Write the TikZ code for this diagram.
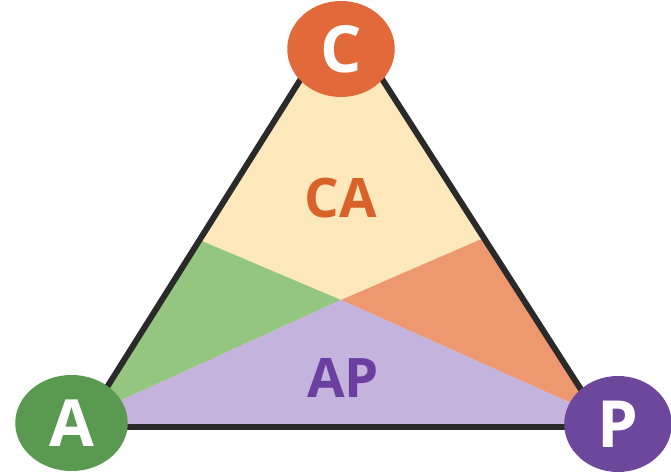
\documentclass[tikz,border=0pt]{standalone}
\usepackage{fontspec}
\setsansfont{Open Sans}
\usepackage{xcolor}
\definecolor{trLine}{HTML}{2A2A2A}
\definecolor{trYellow}{HTML}{FDE8BC}
\definecolor{trGreen}{HTML}{94C67F}
\definecolor{trOrange}{HTML}{EE9870}
\definecolor{trPurple}{HTML}{C4B3DD}
\definecolor{dotC}{HTML}{E2693A}
\definecolor{dotA}{HTML}{5A9A50}
\definecolor{dotP}{HTML}{6C479B}
\definecolor{txtCA}{HTML}{D9622B}
\definecolor{txtAP}{HTML}{6A3FA0}
\usetikzlibrary{shapes.geometric,calc}

\begin{document}
\begin{tikzpicture}[
  node_vtx/.style={ellipse, minimum width=2.15cm, minimum height=1.92cm, inner sep=0pt, font=\sffamily\bfseries\fontsize{37}{37}\selectfont, text=white},
  node_lbl/.style={font=\sffamily\bfseries\fontsize{31}{31}\selectfont}
]
  \useasboundingbox (0,0) rectangle (13.42,9.44);

  %% triangle corners and split points
  \coordinate (top) at (6.82,9.14);
  \coordinate (bl)  at (1.64,0.90);
  \coordinate (br)  at (12.10,0.90);
  \coordinate (mid) at (6.82,3.44);
  \coordinate (ls)  at (3.99,4.64);
  \coordinate (rs)  at (9.68,4.68);

  %% circle centres
  \coordinate (cc) at (6.82,8.46);
  \coordinate (ac) at (1.43,0.98);
  \coordinate (pc) at (12.36,0.96);

  %% coloured regions
  \begin{scope}
    \clip (top) -- (bl) -- (br) -- cycle;
    \fill[trYellow] (top) -- (bl) -- (br) -- cycle;
    \fill[trGreen] (ls) -- (mid) -- (ac) -- ($(ac)+(-1,0)$) -- ($(ls)+(-1,0)$) -- cycle;
    \fill[trOrange] (rs) -- (mid) -- (pc) -- ($(pc)+(1,0)$) -- ($(rs)+(1,0)$) -- cycle;
    \fill[trPurple] (mid) -- (ac) -- ($(ac)+(0,-1)$) -- ($(pc)+(0,-1)$) -- (pc) -- cycle;
  \end{scope}

  %% outline
  \draw[trLine, line width=3.4pt, line join=round] (top) -- (bl) -- (br) -- cycle;

  %% region labels
  \node[node_lbl, text=txtCA] (ca) at (6.82,5.48) {CA};
  \node[node_lbl, text=txtAP] (ap) at (6.86,1.88) {AP};

  %% corner circles
  \node[node_vtx, fill=dotC] (C) at (cc) {C};
  \node[node_vtx, fill=dotA, minimum width=2.25cm] (A) at (ac) {A};
  \node[node_vtx, fill=dotP] (P) at (pc) {P};
\end{tikzpicture}
\end{document}
